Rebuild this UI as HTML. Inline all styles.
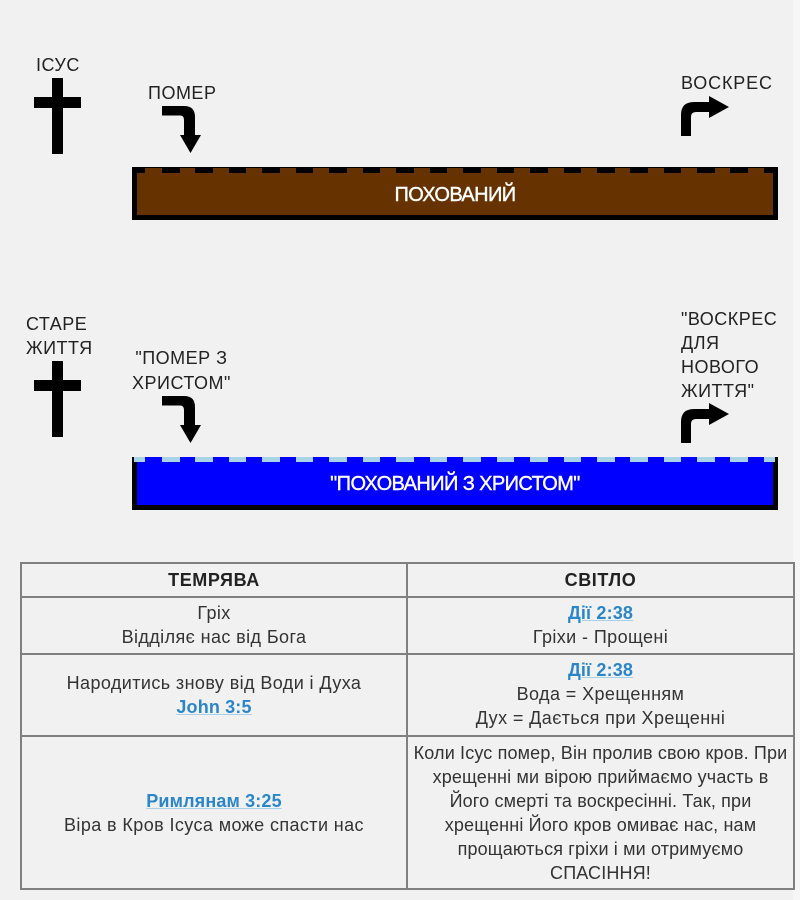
<!DOCTYPE html>
<html lang="uk"><head><meta charset="utf-8"><title>Діаграма</title>
<style>
html,body{margin:0;padding:0;width:800px;height:900px;overflow:hidden;background:#f1f1f1}
body{position:relative;font-family:"Liberation Sans",sans-serif;color:#222}
#strip{position:absolute;left:793px;top:0;width:7px;height:900px;background:#f6f6f6}
.t{position:absolute;font-size:18px;line-height:24px;letter-spacing:.5px;white-space:nowrap;color:#222;filter:blur(.3px)}
.w{position:absolute;left:132px;width:646px;text-align:center;color:#fff;font-size:20px;letter-spacing:-.6px;-webkit-text-stroke:.4px #fff;filter:blur(.3px)}
svg{position:absolute;left:0;top:0}
table{position:absolute;left:20px;top:562px;width:773px;height:327px;border-collapse:collapse;table-layout:fixed;filter:blur(.3px)}
td,th{border:2px solid #808080;text-align:center;padding:0;font-size:18px;line-height:24px;letter-spacing:.4px;color:#333;font-weight:normal;white-space:nowrap}
th{font-weight:bold;color:#222;letter-spacing:.6px}
td.u{padding-bottom:2px}
td.n{letter-spacing:.15px}
a{color:#2a86c8;font-weight:bold;letter-spacing:.15px;text-decoration:underline;text-decoration-color:#a8cfe8}
</style></head><body>
<div id="strip"></div>
<svg width="800" height="900" viewBox="0 0 800 900">
<defs>
<g id="cross"><rect x="52" y="78" width="11" height="76"/><rect x="34" y="97" width="47" height="11"/></g>
<g id="down"><path d="M162 106H184Q195 106 195 117V135H201L190.500 153L180 135H184V120Q184 115.500 180 115.500H162Z"/></g>
<g id="up"><path d="M681 136V115Q681 102 694 102H709V96L729 107L709 118V112H696Q691 112 691 117V136Z"/></g>
</defs>
<use href="#cross"/><use href="#down"/><use href="#up"/>
<use href="#cross" y="283"/><use href="#down" y="290"/><use href="#up" y="307"/>
<rect x="132" y="167" width="646" height="53" fill="#000"/>
<rect x="137" y="168" width="636" height="47" fill="#663300"/>
<g fill="#000"><rect x="132" y="168" width="13" height="5"/><rect x="162" y="168" width="18" height="5"/><rect x="195" y="168" width="18" height="5"/><rect x="229" y="168" width="17" height="5"/><rect x="262" y="168" width="18" height="5"/><rect x="296" y="168" width="17" height="5"/><rect x="329" y="168" width="18" height="5"/><rect x="363" y="168" width="17" height="5"/><rect x="396" y="168" width="18" height="5"/><rect x="430" y="168" width="17" height="5"/><rect x="463" y="168" width="18" height="5"/><rect x="497" y="168" width="17" height="5"/><rect x="530" y="168" width="18" height="5"/><rect x="564" y="168" width="17" height="5"/><rect x="597" y="168" width="18" height="5"/><rect x="630" y="168" width="18" height="5"/><rect x="664" y="168" width="17" height="5"/><rect x="697" y="168" width="18" height="5"/><rect x="730" y="168" width="18" height="5"/><rect x="764" y="168" width="14" height="5"/></g>
<rect x="132" y="457" width="646" height="53" fill="#000"/>
<rect x="137" y="457" width="636" height="48" fill="#0000ff"/>
<g fill="#a9d4e8"><rect x="134" y="457" width="11" height="5"/><rect x="162" y="457" width="18" height="5"/><rect x="195" y="457" width="18" height="5"/><rect x="229" y="457" width="17" height="5"/><rect x="262" y="457" width="18" height="5"/><rect x="296" y="457" width="17" height="5"/><rect x="329" y="457" width="18" height="5"/><rect x="363" y="457" width="17" height="5"/><rect x="396" y="457" width="18" height="5"/><rect x="430" y="457" width="17" height="5"/><rect x="463" y="457" width="18" height="5"/><rect x="497" y="457" width="17" height="5"/><rect x="530" y="457" width="18" height="5"/><rect x="564" y="457" width="17" height="5"/><rect x="597" y="457" width="18" height="5"/><rect x="630" y="457" width="18" height="5"/><rect x="664" y="457" width="17" height="5"/><rect x="697" y="457" width="18" height="5"/><rect x="730" y="457" width="18" height="5"/><rect x="764" y="457" width="11" height="5"/></g>
</svg>
<div class="t" style="left:36px;top:53px">ІСУС</div>
<div class="t" style="left:148px;top:81px">ПОМЕР</div>
<div class="t" style="left:681px;top:71px;letter-spacing:.85px">ВОСКРЕС</div>
<div class="t" style="left:26px;top:312px">СТАРЕ<br>ЖИТТЯ</div>
<div class="t" style="left:132px;top:346px;line-height:25px;text-align:center">"ПОМЕР З<br>ХРИСТОМ"</div>
<div class="t" style="left:681px;top:307px">"ВОСКРЕС<br>ДЛЯ<br>НОВОГО<br>ЖИТТЯ"</div>
<div class="w" style="top:184px">ПОХОВАНИЙ</div>
<div class="w" style="top:473px">"ПОХОВАНИЙ З ХРИСТОМ"</div>
<table>
<colgroup><col style="width:386px"><col style="width:387px"></colgroup>
<tr style="height:34px"><th>ТЕМРЯВА</th><th>СВІТЛО</th></tr>
<tr style="height:57px"><td class="u">Гріх<br>Відділяє нас від Бога</td><td class="u"><a>Дії 2:38</a><br>Гріхи - Прощені</td></tr>
<tr style="height:82px"><td>Народитись знову від Води і Духа<br><a>John 3:5</a></td><td class="u"><a>Дії 2:38</a><br>Вода = Хрещенням<br>Дух = Дається при Хрещенні</td></tr>
<tr style="height:153px"><td>
<a>Римлянам 3:25</a><br>Віра в Кров Ісуса може спасти нас</td><td class="n">Коли Ісус помер, Він пролив свою кров. При<br>хрещенні ми вірою приймаємо участь в<br>Його смерті та воскресінні. Так, при<br>хрещенні Його кров омиває нас, нам<br>прощаються гріхи і ми отримуємо<br>СПАСІННЯ!</td></tr>
</table>
</body></html>
